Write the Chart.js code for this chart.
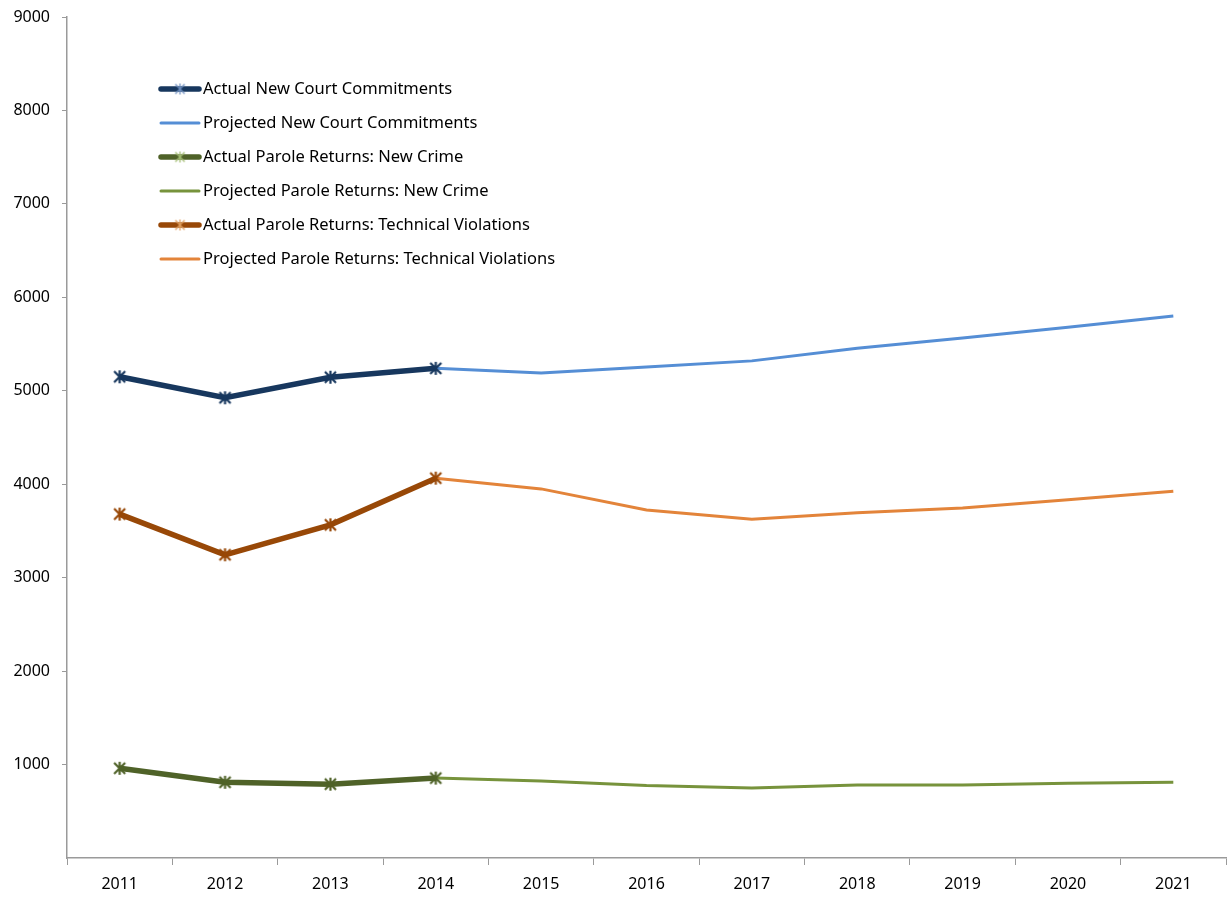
<!DOCTYPE html>
<html>
<head>
<meta charset="utf-8">
<script src="https://cdn.jsdelivr.net/npm/chart.js@4"></script>
<style>
  html, body { margin: 0; padding: 0; background: #fff; overflow: hidden; }
  #wrap { width: 1228px; height: 898px; }
  canvas { display: block; }
</style>
</head>
<body>
<div id="wrap"><canvas id="myChart" width="1228" height="898"></canvas></div>
<script>
// data
const years = ['2011', '2012', '2013', '2014', '2015', '2016', '2017', '2018', '2019', '2020', '2021'];
const actualCourt = [5150, 4925, 5145, 5240, null, null, null, null, null, null, null];
const projCourt = [null, null, null, 5240, 5190, 5255, 5320, 5455, 5565, 5680, 5800];
const actualCrime = [960, 810, 790, 855, null, null, null, null, null, null, null];
const projCrime = [null, null, null, 855, 825, 775, 750, 780, 780, 800, 810];
const actualTech = [3680, 3245, 3565, 4065, null, null, null, null, null, null, null];
const projTech = [null, null, null, 4065, 3950, 3725, 3625, 3695, 3745, 3835, 3925];
const yTicks = [1000, 2000, 3000, 4000, 5000, 6000, 7000, 8000, 9000];

const FONT = '"Noto Sans", "Open Sans", sans-serif';

// asterisk marker like the spreadsheet's
function asterisk(color, size, lw) {
    const c = document.createElement('canvas');
    c.width = size; c.height = size;
    const g = c.getContext('2d');
    g.strokeStyle = color;
    g.lineWidth = lw;
    const m = size / 2, r = size / 2 - 1;
    g.beginPath();
    g.moveTo(m, m - r); g.lineTo(m, m + r);
    g.moveTo(m - r * 0.85, m - r * 0.85); g.lineTo(m + r * 0.85, m + r * 0.85);
    g.moveTo(m + r * 0.85, m - r * 0.85); g.lineTo(m - r * 0.85, m + r * 0.85);
    g.stroke();
    return c;
}

function actualSet(label, data, color, light) {
    return {
        label: label, data: data, borderColor: color, backgroundColor: color,
        borderWidth: 5.5, tension: 0, pointStyle: asterisk(color, 15, 2.2),
        pointRadius: 7, pointHoverRadius: 7, pointBorderWidth: 0, legendMark: light
    };
}
function projSet(label, data, color) {
    return {
        label: label, data: data, borderColor: color, backgroundColor: color,
        borderWidth: 3, tension: 0, pointRadius: 0, pointHoverRadius: 0
    };
}

const insideLegend = {
    id: 'insideLegend',
    afterDraw(chart) {
        const g = chart.ctx;
        g.save();
        chart.data.datasets.forEach((ds, i) => {
            const y = 89 + i * 34;
            g.strokeStyle = ds.borderColor;
            g.lineWidth = ds.borderWidth;
            g.lineCap = 'round';
            g.beginPath();
            g.moveTo(161, y); g.lineTo(199, y);
            g.stroke();
            if (ds.legendMark) {
                g.drawImage(asterisk(ds.legendMark, 13, 1.3), 180 - 6.5, y - 6.5);
            }
            g.fillStyle = '#000';
            g.font = '16.5px ' + FONT;
            g.textBaseline = 'middle';
            g.fillText(ds.label, 203, y);
        });
        g.restore();
    }
};

const ctx = document.getElementById('myChart');
new Chart(ctx, {
    type: 'line',
    data: {
        labels: years,
        datasets: [
            actualSet('Actual New Court Commitments', actualCourt, '#17375E', '#6f8fc0'),
            projSet('Projected New Court Commitments', projCourt, '#558ED5'),
            actualSet('Actual Parole Returns: New Crime', actualCrime, '#4F6228', '#a3bd73'),
            projSet('Projected Parole Returns: New Crime', projCrime, '#77933C'),
            actualSet('Actual Parole Returns: Technical Violations', actualTech, '#984807', '#e0a060'),
            projSet('Projected Parole Returns: Technical Violations', projTech, '#E3843A')
        ]
    },
    options: {
        responsive: false,
        animation: false,
        layout: { autoPadding: false, padding: { top: 17, right: 2, left: 0, bottom: 0 } },
        plugins: {
            legend: { display: false },
            tooltip: { enabled: false }
        },
        scales: {
            x: {
                offset: true,
                grid: { offset: true, drawOnChartArea: false, tickLength: 7, tickColor: '#9a9a9a' },
                border: { color: '#9a9a9a', width: 1.5 },
                ticks: { color: '#000', font: { size: 16, family: FONT }, padding: 10, maxRotation: 0 },
                afterFit(scale) {
                    scale.height = 40;
                    scale.paddingLeft = 0; scale.paddingRight = 0;
                }
            },
            y: {
                min: 0, max: 9000,
                afterBuildTicks(scale) { scale.ticks = yTicks.map(v => ({ value: v })); },
                grid: { drawOnChartArea: false, tickLength: 5, tickColor: '#9a9a9a' },
                border: { color: '#9a9a9a', width: 1.5 },
                ticks: { color: '#000', font: { size: 16, family: FONT }, padding: 12, callback: v => String(v) },
                afterFit(scale) {
                    scale.width = 67;
                    scale.paddingTop = 0; scale.paddingBottom = 0;
                }
            }
        }
    },
    plugins: [insideLegend]
});
</script>
</body>
</html>
